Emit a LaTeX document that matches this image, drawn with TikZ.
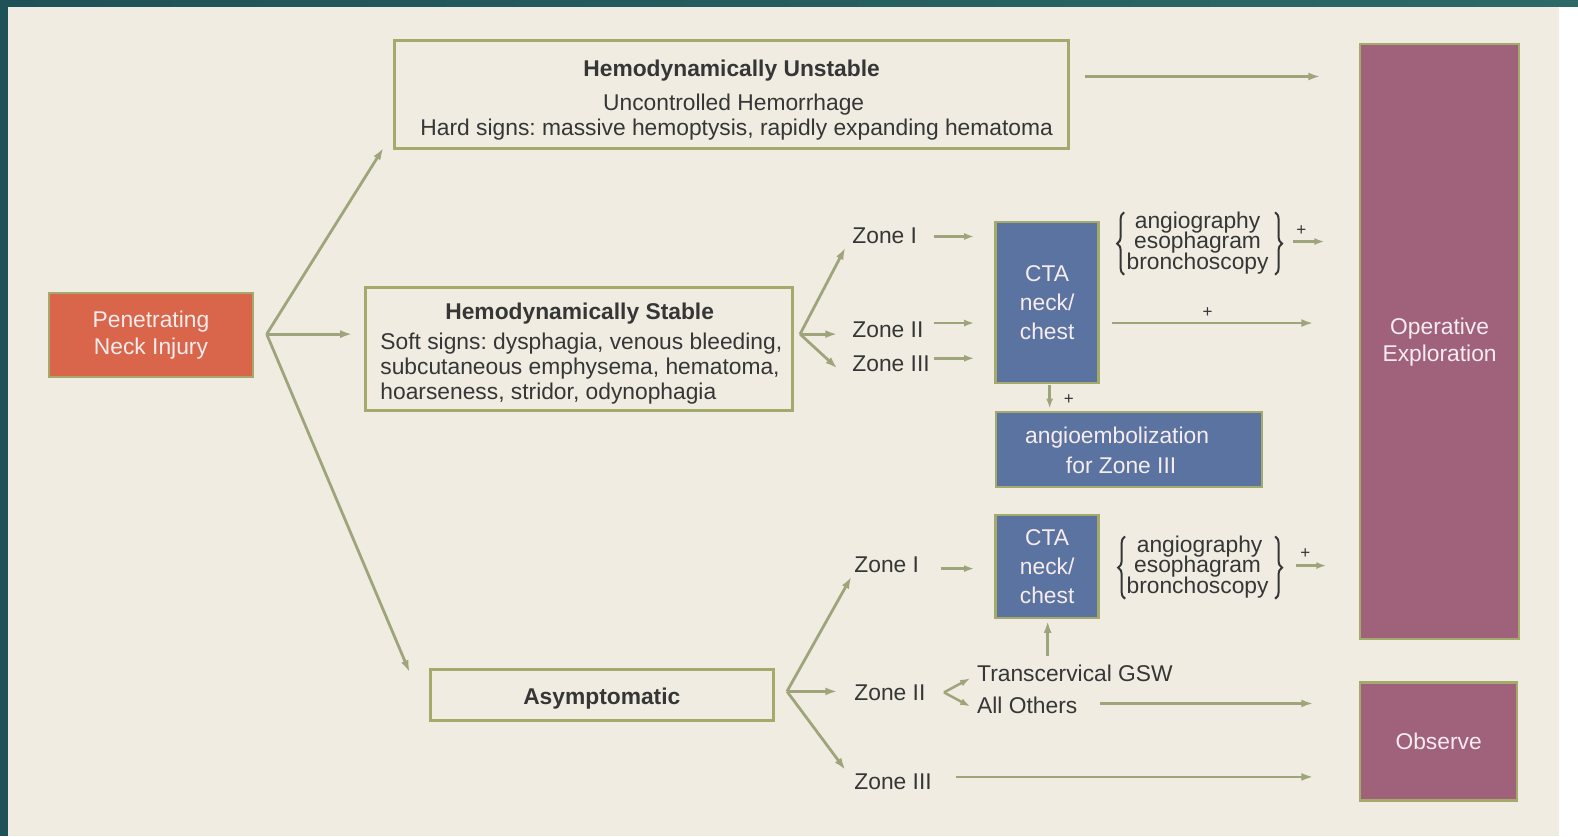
\documentclass[tikz,border=0pt]{standalone}
\usepackage{fontspec}
\setmainfont{Liberation Sans}
\usetikzlibrary{arrows.meta,decorations.pathreplacing}
\definecolor{tealA}{HTML}{1E5258}
\definecolor{tealB}{HTML}{2D6967}
\definecolor{paper}{HTML}{F0ECE2}
\definecolor{olive}{HTML}{A4A96C}
\definecolor{arrowc}{HTML}{9FA57A}
\definecolor{orangebox}{HTML}{D9664A}
\definecolor{bluebox}{HTML}{5A73A0}
\definecolor{mauve}{HTML}{A0617B}
\definecolor{txt}{HTML}{363636}
\definecolor{boxtxt}{HTML}{F7ECEE}
\frenchspacing
\begin{document}
\begin{tikzpicture}[x=1.00638pt,y=-1.00638pt,
  every node/.style={font=\fontsize{22.8}{25}\selectfont, text=txt, inner sep=0pt, outer sep=0pt},
  plainbox/.style={draw=olive, line width=3pt},
  colbox/.style={draw=olive, line width=2.5pt, text=boxtxt, align=center},
  arr/.style={draw=arrowc, line width=2.8pt, -{Latex[length=12pt,width=8pt]}},
  sarr/.style={draw=arrowc, line width=2.5pt, -{Latex[length=10pt,width=7pt]}},
  lbl/.style={anchor=base west},
  ctr/.style={anchor=base},
  bt/.style={font=\bfseries\fontsize{22.8}{25}\selectfont},
  pls/.style={font=\fontsize{17}{17}\selectfont},
  brc/.style={draw=txt, line width=2pt, decorate, decoration={brace, amplitude=7pt}}
]
% background
\fill[paper] (0,0) rectangle (1568,831);
\fill[white] (1549,0) rectangle (1568,831);
\shade[left color=tealA, right color=tealB] (0,0) rectangle (1568,6);
\fill[tealA] (0,0) rectangle (8,831);
\useasboundingbox (0,0) rectangle (1568,831);

% main boxes
\node[colbox, fill=orangebox, minimum width=204, minimum height=84, font=\fontsize{22.8}{27}\selectfont] (pni) at (150,333) {Penetrating\\Neck Injury};

\node[plainbox, minimum width=674, minimum height=108] (unst) at (727,94) {};
\node[ctr, bt] (u1) at (727,76) {Hemodynamically Unstable};
\node[ctr] (u2) at (729,110) {Uncontrolled Hemorrhage};
\node[ctr] (u3) at (732,135) {Hard signs: massive hemoptysis, rapidly expanding hematoma};

\node[plainbox, minimum width=427, minimum height=123] (stab) at (575.5,346.5) {};
\node[ctr, bt] (s1) at (576,317) {Hemodynamically Stable};
\node[lbl] (s2) at (378,347) {Soft signs: dysphagia, venous bleeding,};
\node[lbl] (s3) at (378,372) {subcutaneous emphysema, hematoma,};
\node[lbl] (s4) at (378,397) {hoarseness, stridor, odynophagia};

\node[plainbox, minimum width=343, minimum height=51] (asym) at (598.5,690.5) {};
\node[ctr, bt] (a1) at (598,700) {Asymptomatic};

\node[colbox, fill=bluebox, minimum width=103, minimum height=161, font=\fontsize{22.8}{29}\selectfont] (cta1) at (1040.5,300.5) {CTA\\neck/\\chest};
\node[colbox, fill=bluebox, minimum width=266, minimum height=75] (emb) at (1122,446.5) {};
\node[ctr, text=boxtxt] (e1) at (1110,441) {angioembolization};
\node[ctr, text=boxtxt] (e2) at (1114,470) {for Zone III};
\node[colbox, fill=bluebox, minimum width=103, minimum height=103, font=\fontsize{22.8}{29}\selectfont] (cta2) at (1040.5,563) {CTA\\neck/\\chest};

\node[colbox, fill=mauve, minimum width=159, minimum height=595, font=\fontsize{22.8}{27}\selectfont] (oper) at (1430.5,339.5) {Operative\\Exploration};
\node[colbox, fill=mauve, minimum width=157, minimum height=118] (obs) at (1429.5,737) {Observe};

% zone labels
\node[lbl] (z1) at (847,242) {Zone I};
\node[lbl] (z2) at (847,335) {Zone II};
\node[lbl] (z3) at (847,369) {Zone III};
\node[lbl] (y1) at (849,569) {Zone I};
\node[lbl] (y2) at (849,696) {Zone II};
\node[lbl] (y3) at (849,784) {Zone III};
\node[lbl] (tg) at (971,677) {Transcervical GSW};
\node[lbl] (ao) at (971,709) {All Others};

% brace groups
\node[ctr] (b1a) at (1190,227) {angiography};
\node[ctr] (b1b) at (1190,247) {esophagram};
\node[ctr] (b1c) at (1190,268) {bronchoscopy};
\draw[brc] (1117,273) -- (1117,211);
\draw[brc] (1267,211) -- (1267,273);
\node[ctr] (b2a) at (1192,549) {angiography};
\node[ctr] (b2b) at (1190,569) {esophagram};
\node[ctr] (b2c) at (1190,590) {bronchoscopy};
\draw[brc] (1118,595) -- (1118,533);
\draw[brc] (1267,533) -- (1267,595);

% plus signs
\node[pls] (p1) at (1293,229) {+};
\node[pls] (p2) at (1200,311) {+};
\node[pls] (p3) at (1062,397) {+};
\node[pls] (p4) at (1297,550) {+};

% coordinates
\coordinate (pb) at (265,332);
\coordinate (pbU) at (381,147);
\coordinate (pbS) at (350,332);
\coordinate (pbA) at (407,668);
\coordinate (ua) at (1078,76);
\coordinate (ub) at (1312,76);
\coordinate (sb) at (795,332);
\coordinate (sb1) at (840,246);
\coordinate (sb2) at (832,332);
\coordinate (sb3) at (832,366);
\coordinate (z1a) at (928,235);
\coordinate (z1b) at (968,235);
\coordinate (z2a) at (928,321);
\coordinate (z2b) at (968,321);
\coordinate (z3a) at (928,356);
\coordinate (z3b) at (968,356);
\coordinate (c1a) at (1105,321);
\coordinate (c1b) at (1305,321);
\coordinate (br1a) at (1285,240);
\coordinate (br1b) at (1316,240);
\coordinate (dn1) at (1043,383);
\coordinate (dn2) at (1043,406);
\coordinate (ab) at (782,687);
\coordinate (ab1) at (846,573);
\coordinate (ab2) at (832,687);
\coordinate (ab3) at (840,765);
\coordinate (y1a) at (935,565);
\coordinate (y1b) at (968,565);
\coordinate (br2a) at (1288,562);
\coordinate (br2b) at (1318,562);
\coordinate (fk) at (938,688);
\coordinate (fk1) at (964,674);
\coordinate (fk2) at (964,702);
\coordinate (tga) at (1041,652);
\coordinate (tgb) at (1041,617);
\coordinate (aoa) at (1093,699);
\coordinate (aob) at (1305,699);
\coordinate (y3a) at (950,772);
\coordinate (y3b) at (1305,772);

% connectors
\draw[arr] (pb) -- (pbU);
\draw[arr] (pb) -- (pbS);
\draw[arr] (pb) -- (pbA);
\draw[arr] (ua) -- (ub);
\draw[arr] (sb) -- (sb1);
\draw[arr] (sb) -- (sb2);
\draw[arr] (sb) -- (sb3);
\draw[sarr] (z1a) -- (z1b);
\draw[sarr] (z2a) -- (z2b);
\draw[sarr] (z3a) -- (z3b);
\draw[arr] (c1a) -- (c1b);
\draw[sarr] (br1a) -- (br1b);
\draw[sarr] (dn1) -- (dn2);
\draw[arr] (ab) -- (ab1);
\draw[arr] (ab) -- (ab2);
\draw[arr] (ab) -- (ab3);
\draw[sarr] (y1a) -- (y1b);
\draw[sarr] (br2a) -- (br2b);
\draw[sarr] (fk) -- (fk1);
\draw[sarr] (fk) -- (fk2);
\draw[arr] (tga) -- (tgb);
\draw[arr] (aoa) -- (aob);
\draw[arr] (y3a) -- (y3b);
\end{tikzpicture}
\end{document}
